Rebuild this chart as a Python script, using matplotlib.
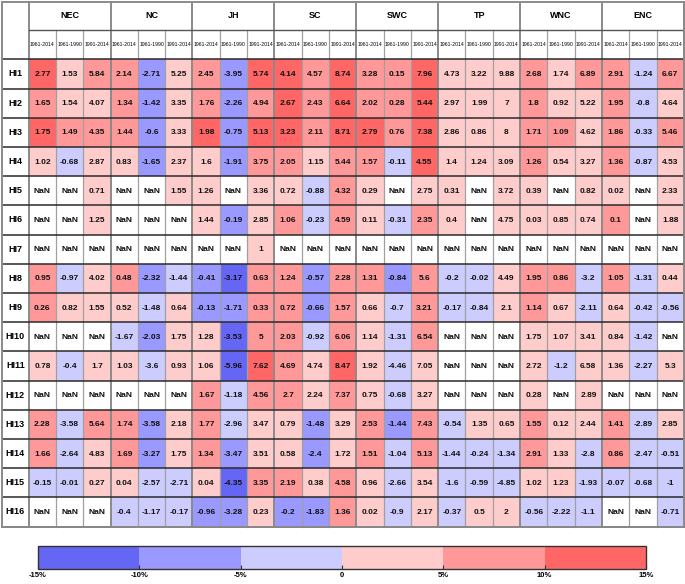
import numpy as np
import matplotlib
matplotlib.use("Agg")
import matplotlib.pyplot as plt
from matplotlib.colors import ListedColormap, BoundaryNorm
from matplotlib.cm import ScalarMappable

nan = np.nan

regions = ["NEC", "NC", "JH", "SC", "SWC", "TP", "WNC", "ENC"]
periods = ["1961-2014", "1961-1990", "1991-2014"]
row_labels = ["HI%d" % i for i in range(1, 17)]

# displayed trend values (rows HI1..HI16, 8 regions x 3 periods)
values = [
    [2.77, 1.53, 5.84, 2.14, -2.71, 5.25, 2.45, -3.95, 5.74, 4.14, 4.57, 8.74, 3.28, 0.15, 7.96, 4.73, 3.22, 9.88, 2.68, 1.74, 6.89, 2.91, -1.24, 6.67],
    [1.65, 1.54, 4.07, 1.34, -1.42, 3.35, 1.76, -2.26, 4.94, 2.67, 2.43, 6.64, 2.02, 0.28, 5.44, 2.97, 1.99, 7, 1.8, 0.92, 5.22, 1.95, -0.8, 4.64],
    [1.75, 1.49, 4.35, 1.44, -0.6, 3.33, 1.98, -0.75, 5.13, 3.23, 2.11, 8.71, 2.79, 0.76, 7.38, 2.86, 0.86, 8, 1.71, 1.09, 4.62, 1.86, -0.33, 5.46],
    [1.02, -0.68, 2.87, 0.83, -1.65, 2.37, 1.6, -1.91, 3.75, 2.05, 1.15, 5.44, 1.57, -0.11, 4.55, 1.4, 1.24, 3.09, 1.26, 0.54, 3.27, 1.36, -0.87, 4.53],
    [nan, nan, 0.71, nan, nan, 1.55, 1.26, nan, 3.36, 0.72, -0.88, 4.32, 0.29, nan, 2.75, 0.31, nan, 3.72, 0.39, nan, 0.82, 0.02, nan, 2.33],
    [nan, nan, 1.25, nan, nan, nan, 1.44, -0.19, 2.85, 1.06, -0.23, 4.59, 0.11, -0.31, 2.35, 0.4, nan, 4.75, 0.03, 0.85, 0.74, 0.1, nan, 1.88],
    [nan, nan, nan, nan, nan, nan, nan, nan, 1, nan, nan, nan, nan, nan, nan, nan, nan, nan, nan, nan, nan, nan, nan, nan],
    [0.95, -0.97, 4.02, 0.48, -2.32, -1.44, -0.41, -3.17, 0.63, 1.24, -0.57, 2.28, 1.31, -0.84, 5.6, -0.2, -0.02, 4.49, 1.95, 0.86, -3.2, 1.05, -1.31, 0.44],
    [0.26, 0.82, 1.55, 0.52, -1.48, 0.64, -0.13, -1.71, 0.33, 0.72, -0.66, 1.57, 0.66, -0.7, 3.21, -0.17, -0.84, 2.1, 1.14, 0.67, -2.11, 0.64, -0.42, -0.56],
    [nan, nan, nan, -1.67, -2.03, 1.75, 1.28, -3.53, 5, 2.03, -0.92, 6.06, 1.14, -1.31, 6.54, nan, nan, nan, 1.75, 1.07, 3.41, 0.84, -1.42, nan],
    [0.78, -0.4, 1.7, 1.03, -3.6, 0.93, 1.06, -5.96, 7.62, 4.69, 4.74, 8.47, 1.92, -4.46, 7.05, nan, nan, nan, 2.72, -1.2, 6.58, 1.36, -2.27, 5.3],
    [nan, nan, nan, nan, nan, nan, 1.67, -1.18, 4.56, 2.7, 2.24, 7.37, 0.75, -0.68, 3.27, nan, nan, nan, 0.28, nan, 2.89, nan, nan, nan],
    [2.28, -3.58, 5.64, 1.74, -3.58, 2.18, 1.77, -2.96, 3.47, 0.79, -1.48, 3.29, 2.53, -1.44, 7.43, -0.54, 1.35, 0.65, 1.55, 0.12, 2.44, 1.41, -2.89, 2.85],
    [1.66, -2.64, 4.83, 1.69, -3.27, 1.75, 1.34, -3.47, 3.51, 0.58, -2.4, 1.72, 1.51, -1.04, 5.13, -1.44, -0.24, -1.34, 2.91, 1.33, -2.8, 0.86, -2.47, -0.51],
    [-0.15, -0.01, 0.27, 0.04, -2.57, -2.71, 0.04, -4.35, 3.35, 2.19, 0.38, 4.58, 0.96, -2.66, 3.54, -1.6, -0.59, -4.85, 1.02, 1.23, -1.93, -0.07, -0.68, -1],
    [nan, nan, nan, -0.4, -1.17, -0.17, -0.96, -3.28, 0.23, -0.2, -1.83, 1.36, 0.02, -0.9, 2.17, -0.37, 0.5, 2, -0.56, -2.22, -1.1, nan, nan, -0.71],
]

# percentage change used for cell colour (estimated from the colour bins)
pct = [
    [12.5, 2.5, 7.5, 7.5, -7.5, 2.5, 7.5, -7.5, 12.5, 12.5, 7.5, 12.5, 7.5, 7.5, 12.5, 2.5, 2.5, 2.5, 7.5, 2.5, 7.5, 7.5, -2.5, 7.5],
    [7.5, 2.5, 2.5, 7.5, -7.5, 2.5, 7.5, -7.5, 7.5, 12.5, 7.5, 12.5, 7.5, 7.5, 12.5, 2.5, 2.5, 2.5, 7.5, 2.5, 2.5, 7.5, -2.5, 2.5],
    [12.5, 7.5, 7.5, 7.5, -7.5, 2.5, 12.5, -7.5, 12.5, 12.5, 7.5, 12.5, 12.5, 7.5, 12.5, 2.5, 2.5, 2.5, 7.5, 7.5, 2.5, 7.5, -2.5, 7.5],
    [2.5, -2.5, 2.5, 2.5, -7.5, 2.5, 2.5, -7.5, 7.5, 7.5, 2.5, 7.5, 7.5, -2.5, 12.5, 2.5, 2.5, 2.5, 7.5, 2.5, 2.5, 7.5, -2.5, 2.5],
    [nan, nan, 2.5, nan, nan, 2.5, 2.5, nan, 2.5, 2.5, -2.5, 7.5, 2.5, nan, 2.5, 2.5, nan, 2.5, 2.5, nan, 2.5, 2.5, nan, 2.5],
    [nan, nan, 2.5, nan, nan, nan, 2.5, -7.5, 2.5, 7.5, -2.5, 7.5, 2.5, -2.5, 7.5, 2.5, nan, 2.5, 2.5, 2.5, 2.5, 7.5, nan, 2.5],
    [nan, nan, nan, nan, nan, nan, nan, nan, 2.5, nan, nan, nan, nan, nan, nan, nan, nan, nan, nan, nan, nan, nan, nan, nan],
    [7.5, -2.5, 2.5, 7.5, -7.5, -2.5, -7.5, -12.5, 7.5, 7.5, -7.5, 7.5, 7.5, -7.5, 7.5, -2.5, -2.5, 2.5, 7.5, 7.5, -2.5, 7.5, -2.5, 2.5],
    [7.5, 2.5, 2.5, 2.5, -2.5, 2.5, -7.5, -7.5, 7.5, 7.5, -7.5, 7.5, 2.5, -2.5, 7.5, -2.5, -2.5, 2.5, 7.5, 2.5, -2.5, 2.5, -2.5, -2.5],
    [nan, nan, nan, -2.5, -7.5, 2.5, 2.5, -12.5, 7.5, 7.5, -2.5, 7.5, 2.5, -2.5, 7.5, nan, nan, nan, 2.5, 2.5, 2.5, 2.5, -2.5, nan],
    [2.5, -2.5, 2.5, 2.5, -2.5, 2.5, 2.5, -12.5, 12.5, 7.5, 2.5, 12.5, 2.5, -2.5, 2.5, nan, nan, nan, 2.5, -2.5, 2.5, 2.5, -2.5, 2.5],
    [nan, nan, nan, nan, nan, nan, 7.5, -2.5, 7.5, 7.5, 2.5, 7.5, 2.5, -2.5, 2.5, nan, nan, nan, 2.5, nan, 2.5, nan, nan, nan],
    [7.5, -2.5, 7.5, 7.5, -7.5, 2.5, 7.5, -2.5, 2.5, 2.5, -7.5, 2.5, 7.5, -7.5, 7.5, -2.5, 2.5, 2.5, 7.5, 2.5, 2.5, 7.5, -2.5, 2.5],
    [7.5, -2.5, 2.5, 7.5, -7.5, 2.5, 7.5, -7.5, 2.5, 2.5, -7.5, 2.5, 7.5, -2.5, 7.5, -2.5, -2.5, -2.5, 7.5, 2.5, -2.5, 7.5, -2.5, -2.5],
    [-2.5, -2.5, 2.5, 2.5, -2.5, -2.5, 2.5, -12.5, 7.5, 7.5, 2.5, 7.5, 2.5, -2.5, 2.5, -2.5, -2.5, -2.5, 2.5, 2.5, -2.5, -2.5, -2.5, -2.5],
    [nan, nan, nan, -2.5, -2.5, -2.5, -7.5, -7.5, 2.5, -7.5, -7.5, 7.5, 2.5, -2.5, 2.5, -2.5, 2.5, 2.5, -2.5, -2.5, -2.5, nan, nan, -2.5],
]

bounds = [-15, -10, -5, 0, 5, 10, 15]
bin_colors = ["#6666f5", "#9999ff", "#ccccff", "#ffcccc", "#ff9999", "#ff6666"]
tick_text = ["-15%", "-10%", "-5%", "0", "5%", "10%", "15%"]

FONT = ["Liberation Sans Narrow", "Liberation Sans", "DejaVu Sans"]
plt.rcParams["font.family"] = FONT

# ---- layout (pixels) ----
W, H = 685, 584
X0, XL, CW = 2.0, 28.7, 27.3          # table left, first data col, col width
Y0, YH1, YH2, RH = 2.0, 29.6, 59.3, 29.2

ncol = len(regions) * len(periods)
nrow = len(row_labels)

fig = plt.figure(figsize=(W / 100, H / 100), dpi=100)
ax = fig.add_axes([0, 0, 1, 1])
ax.set_xlim(0, W)
ax.set_ylim(H, 0)
ax.axis("off")

cmap = ListedColormap(bin_colors)
norm = BoundaryNorm(bounds, cmap.N)

xe = XL + CW * np.arange(ncol + 1)
ye = YH2 + RH * np.arange(nrow + 1)
C = np.ma.masked_invalid(np.array(pct, dtype=float))
ax.pcolormesh(xe, ye, C, cmap=cmap, norm=norm, shading="flat", zorder=1)

vals = np.array(values, dtype=float)
for i in range(nrow):
    yc = (ye[i] + ye[i + 1]) / 2
    ax.text((X0 + XL) / 2, yc, row_labels[i], ha="center", va="center",
            fontsize=6.5, fontweight="bold", zorder=4)
    for j in range(ncol):
        v = vals[i, j]
        s = "NaN" if np.isnan(v) else "%g" % v
        ax.text((xe[j] + xe[j + 1]) / 2, yc + 0.5, s, ha="center", va="center",
                fontsize=6, fontweight="bold", color="#111111", zorder=4)

# headers
for r, name in enumerate(regions):
    xa, xb = xe[3 * r], xe[3 * r + 3]
    ax.text((xa + xb) / 2, (Y0 + YH1) / 2, name, ha="center", va="center",
            fontsize=6.5, fontweight="bold", zorder=4)
    for k, p in enumerate(periods):
        ax.text((xe[3 * r + k] + xe[3 * r + k + 1]) / 2, (YH1 + YH2) / 2, p,
                ha="center", va="center", fontsize=3.7, zorder=4)

# grid lines
xr = xe[-1]
hl = dict(color="#2a2a2a", lw=1.1, zorder=3)
for y in ye:
    ax.plot([X0, xr], [y, y], **hl)
ax.plot([XL, xr], [YH1, YH1], color="#555555", lw=1.0, zorder=3)
for j, x in enumerate(xe):
    if j % 3 == 0:
        ax.plot([x, x], [Y0, ye[-1]], color="#8a8a8a", lw=1.4, zorder=2.9)
    else:
        ax.plot([x, x], [YH1, ye[-1]], color="#a0a0a0", lw=0.9, zorder=2.9)
ax.plot([X0, X0, xr, xr, X0], [Y0, ye[-1], ye[-1], Y0, Y0], color="#8a8a8a",
        lw=1.4, zorder=3)

# colour bar
cax = fig.add_axes([38 / W, 1 - 569 / H, 608 / W, 23 / H])
sm = ScalarMappable(norm=norm, cmap=cmap)
cb = fig.colorbar(sm, cax=cax, orientation="horizontal", ticks=bounds)
cb.ax.set_xticklabels(tick_text)
cb.ax.tick_params(direction="in", length=3, width=0.8, labelsize=5.5, pad=2,
                  colors="#333333")
for t in cb.ax.get_xticklabels():
    t.set_fontweight("bold")
    t.set_color("black")
cb.outline.set_edgecolor("#333333")
cb.outline.set_linewidth(1.0)

fig.savefig("out.png", dpi=100)
